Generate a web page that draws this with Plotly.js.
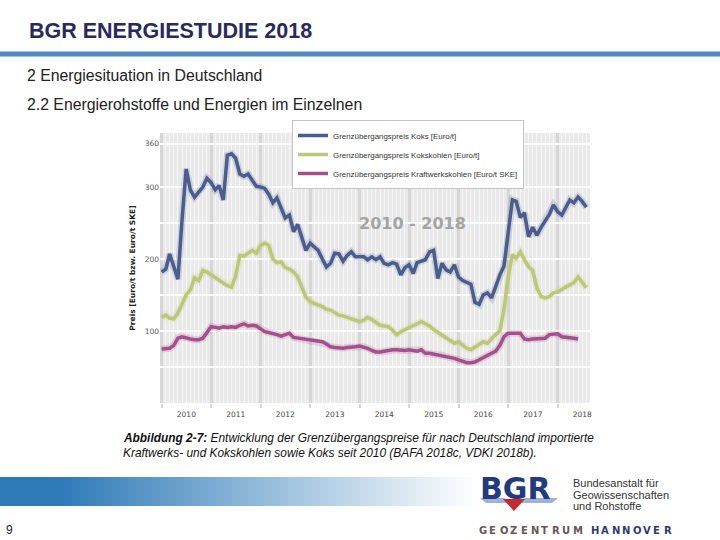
<!DOCTYPE html>
<html>
<head>
<meta charset="utf-8">
<script src="https://cdn.plot.ly/plotly-3.0.1.min.js"></script>
<style>
html,body{margin:0;padding:0;background:#fff;}
#chart{width:720px;height:540px;}
</style>
</head>
<body>
<div id="chart"></div>
<script>
// ---- Data (monthly, starting January 2010) ----
const startYear = 2010;
const seriesNames = [
  'Grenzübergangspreis Koks [Euro/t]',
  'Grenzübergangspreis Kokskohlen [Euro/t]',
  'Grenzübergangspreis Kraftwerkskohlen [Euro/t SKE]'
];
const koks = [
  182,186,207,190,172,255,325,296,286,293,
  300,312,306,296,302,282,344,346,340,318,
  315,318,310,301,300,298,290,278,285,272,
  257,261,238,248,230,212,222,216,212,200,
  189,194,208,207,197,205,210,203,203,203,
  199,203,199,203,194,192,195,193,178,188,
  192,180,195,197,199,210,212,173,194,185,
  182,192,175,170,167,165,140,137,150,153,
  146,162,178,190,232,282,280,258,264,231,
  244,233,244,254,262,275,266,261,270,282,
  278,286,280,272
];
const kokskohlen = [
  119,122,118,117,125,138,150,157,174,170,
  184,182,178,175,170,167,163,161,176,205,
  204,208,212,208,219,222,219,200,195,196,
  188,186,182,175,162,147,141,138,136,134,
  130,129,126,122,121,119,117,115,113,115,
  119,116,112,108,107,106,101,95,99,102,
  104,107,111,113,110,107,102,98,94,90,
  86,83,85,80,76,74,78,81,85,83,
  90,95,100,130,175,206,201,210,199,189,
  184,160,148,146,148,153,154,158,161,164,
  167,175,168,160
];
const kraftwerk = [
  75,75,76,80,90,92,90,89,88,88,
  90,98,106,105,104,106,105,106,105,108,
  110,107,108,107,103,99,98,97,95,93,
  95,97,91,90,90,89,88,87,86,85,
  82,78,77,76,76,77,77,78,79,78,
  76,73,71,71,72,74,74,74,73,73,
  74,73,72,74,69,69,68,67,66,65,
  63,62,60,58,56,56,57,60,63,65,
  68,72,80,92,97,97,97,97,89,88,
  89,89,90,90,95,96,96,92,91,91,
  90,89
];
const yTickVals = [50,100,150,200,250,300,360];
const yTickText = ['','100','','200','','300','360'];

// monthly date labels derived from the start year
function monthDates(n){
  const out=[];
  for(let i=0;i<n;i++){
    const y = startYear + Math.floor(i/12);
    const m = (i%12)+1;
    out.push(y+'-'+(m<10?'0'+m:m)+'-01');
  }
  return out;
}

const colors = ['#4b5d8f','#bcc777','#a5508c'];
const dataSets = [koks, kokskohlen, kraftwerk];
const traces = [];
// soft halo under each line
dataSets.forEach((d,i)=>{
  traces.push({x:monthDates(d.length), y:d, type:'scatter', mode:'lines',
    line:{color:colors[i], width:7}, opacity:0.2, showlegend:false, hoverinfo:'skip'});
});
dataSets.forEach((d,i)=>{
  traces.push({x:monthDates(d.length), y:d, type:'scatter', mode:'lines', name:seriesNames[i],
    line:{color:colors[i], width:3.5}});
});

// ---- helpers for slide decoration (pixel -> paper) ----
const W=720,H=540;
const px = v => v/W;
const py = v => 1 - v/H;

const shapes = [];
// blue rule under title
shapes.push({type:'rect', xref:'paper', yref:'paper', x0:0, x1:1, y0:py(56.5), y1:py(51.5),
  fillcolor:'#4f8cc2', line:{width:0}, layer:'above'});
// gradient bar
const gSteps = 60, gEnd = 480;
for(let i=0;i<gSteps;i++){
  const t = i/(gSteps-1);
  const f = Math.min(1, Math.max(0,(t-0.12)/0.88));
  const r = Math.round(46 + (255-46)*f);
  const g = Math.round(123 + (255-123)*f);
  const b = Math.round(184 + (255-184)*f);
  shapes.push({type:'rect', xref:'paper', yref:'paper',
    x0:px(i*gEnd/gSteps), x1:px((i+1)*gEnd/gSteps+0.6), y0:py(506), y1:py(477),
    fillcolor:'rgb('+r+','+g+','+b+')', line:{width:0}, layer:'above'});
}
// logo band and red triangle
function pathPx(pts){
  return 'M' + pts.map(p=>px(p[0]).toFixed(5)+','+py(p[1]).toFixed(5)).join(' L') + ' Z';
}
shapes.push({type:'path', xref:'paper', yref:'paper', path:pathPx([[480,498],[504,498],[510,503],[486,503]]),
  fillcolor:'#9fb2d9', line:{width:0}, layer:'above'});
shapes.push({type:'path', xref:'paper', yref:'paper', path:pathPx([[524,498],[558,498],[552,503],[518,503]]),
  fillcolor:'#9fb2d9', line:{width:0}, layer:'above'});
shapes.push({type:'path', xref:'paper', yref:'paper', path:pathPx([[503,499],[525,499],[514,511]]),
  fillcolor:'#c42a2f', line:{width:0}, layer:'above'});

const annotations = [];
function txt(text, x, y, size, color, opts){
  annotations.push(Object.assign({text:text, xref:'paper', yref:'paper', x:px(x), y:py(y),
    xanchor:'left', yanchor:'middle', showarrow:false,
    font:{family:'Liberation Sans, Arial, sans-serif', size:size, color:color}}, opts||{}));
}
txt('<b>BGR ENERGIESTUDIE 2018</b>', 27, 31, 21.5, '#272a60');
txt('2 Energiesituation in Deutschland', 25, 76, 15.8, '#222222');
txt('2.2 Energierohstoffe und Energien im Einzelnen', 25, 105, 15.8, '#222222');
txt('<b><i>Abbildung 2-7:</i></b><i> Entwicklung der Grenzübergangspreise für nach Deutschland importierte</i>', 121, 438, 11.9, '#111111');
txt('<i>Kraftwerks- und Kokskohlen sowie Koks seit 2010 (BAFA 2018c, VDKI 2018b).</i>', 121, 453, 11.9, '#111111');
txt('9', 4, 530, 12, '#222222');
txt('<b>2010 - 2018</b>', 412, 223, 16, '#a4a4a4', {xanchor:'center', font:{family:'DejaVu Sans, Verdana, sans-serif', size:16, color:'#a4a4a4'}});
// logo texts
txt('<b>BGR</b>', 478, 488, 30, '#233a7c', {font:{family:'DejaVu Sans, sans-serif', size:30, color:'#233a7c'}});
txt('Bundesanstalt für', 571, 483, 11, '#333333');
txt('Geowissenschaften', 571, 494.5, 11, '#333333');
txt('und Rohstoffe', 571, 506, 11, '#333333');
const geo = 'GEOZENTRUM', han = 'HANNOVER';
for(let i=0;i<geo.length;i++){
  txt('<b>'+geo[i]+'</b>', 477 + i*10.4, 530, 11, '#665656', {xanchor:'left', font:{family:'DejaVu Sans, sans-serif', size:10, color:'#665656'}});
}
for(let i=0;i<han.length;i++){
  txt('<b>'+han[i]+'</b>', 589 + i*10.4, 530, 11, '#2b3b74', {xanchor:'left', font:{family:'DejaVu Sans, sans-serif', size:10, color:'#2b3b74'}});
}

const layout = {
  width:W, height:H,
  margin:{l:0,r:0,t:0,b:0},
  paper_bgcolor:'#ffffff',
  plot_bgcolor:'#e9e9e9',
  showlegend:true,
  legend:{x:px(292), y:py(120), xanchor:'left', yanchor:'top',
    bgcolor:'#ffffff', bordercolor:'#c4c4c4', borderwidth:1, itemwidth:30,
    font:{family:'Liberation Sans, Arial, sans-serif', size:7.9, color:'#333'}},
  xaxis:{
    domain:[px(160), px(590)],
    type:'date',
    range:['2009-12-20','2018-08-28'],
    tick0:'2010-01-01', dtick:'M12', tickformat:'%Y', ticklabelmode:'period',
    showgrid:true, gridcolor:'#d6d6d6', gridwidth:3,
    minor:{dtick:'M1', tick0:'2010-01-01', showgrid:true, gridcolor:'#f6f6f6', gridwidth:1},
    ticks:'outside', ticklen:4, tickwidth:2, tickcolor:'#d6d6d6',
    tickfont:{family:'DejaVu Sans, Verdana, sans-serif', size:7.5, color:'#444'},
    showline:false, zeroline:false
  },
  yaxis:{
    domain:[py(403), py(133)],
    range:[0,375],
    tickvals:yTickVals, ticktext:yTickText,
    showgrid:true, gridcolor:'#ffffff', gridwidth:1.5,
    ticks:'', zeroline:false, showline:false,
    tickfont:{family:'DejaVu Sans, Verdana, sans-serif', size:7.5, color:'#555'},
    title:{text:'Preis [Euro/t bzw. Euro/t SKE]', standoff:8,
      font:{family:'DejaVu Sans, Verdana, sans-serif', size:7.5, color:'#222', weight:'bold'}}
  },
  shapes:shapes,
  annotations:annotations
};

Plotly.newPlot('chart', traces, layout, {displayModeBar:false, staticPlot:true});
</script>
</body>
</html>
